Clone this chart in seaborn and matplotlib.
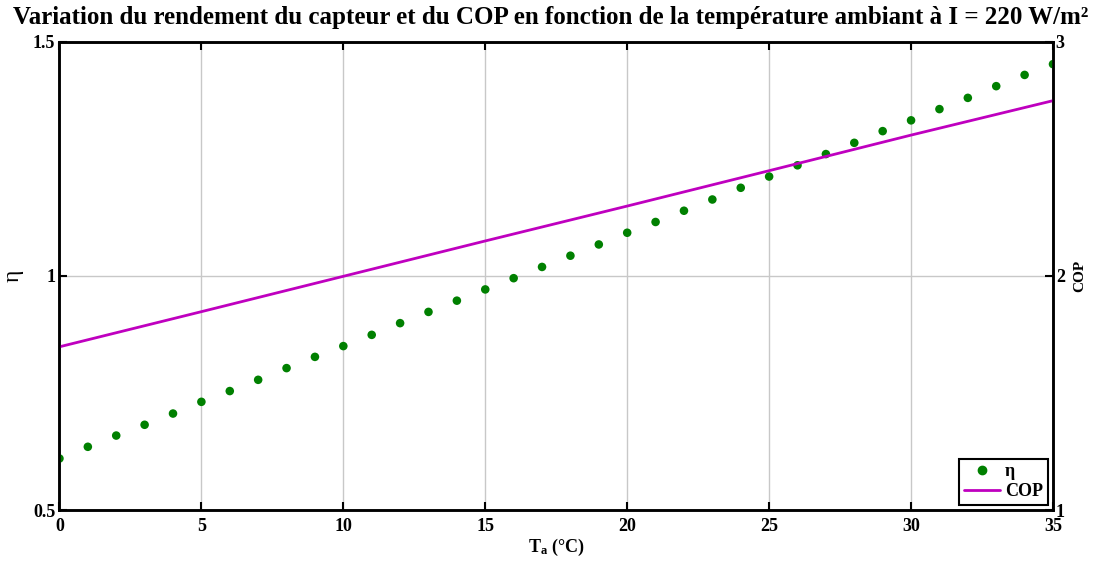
import numpy as np
import pandas as pd
import matplotlib
matplotlib.use("Agg")
import matplotlib.pyplot as plt
import seaborn as sns
from matplotlib.lines import Line2D

# ---- data ----
ta = list(range(0, 36))
eta = [0.610, 0.635, 0.659, 0.682, 0.706, 0.731, 0.754, 0.778, 0.803, 0.827,
       0.850, 0.874, 0.899, 0.923, 0.947, 0.971, 0.995, 1.019, 1.043, 1.067,
       1.092, 1.115, 1.139, 1.163, 1.188, 1.212, 1.236, 1.260, 1.284, 1.309,
       1.332, 1.356, 1.380, 1.405, 1.429, 1.452]
ta_cop = [0, 5, 10, 15, 20, 25, 30, 35]
cop = [1.697, 1.847, 1.998, 2.149, 2.298, 2.449, 2.601, 2.748]

x_ticks = [0, 5, 10, 15, 20, 25, 30, 35]
eta_ticks = [0.5, 1.0, 1.5]
eta_ticklabels = ["0.5", "1", "1.5"]
cop_ticks = [1, 2, 3]
cop_ticklabels = ["1", "2", "3"]

title = "Variation du rendement du capteur et du COP en fonction de la température ambiant à I = 220 W/m²"

sns.set_style("white")
plt.rcParams['font.family'] = ['Liberation Serif', 'DejaVu Serif']
plt.rcParams['mathtext.fontset'] = 'custom'
plt.rcParams['mathtext.rm'] = 'Liberation Serif'
plt.rcParams['mathtext.bf'] = 'Liberation Serif:bold'
plt.rcParams['text.color'] = 'black'
plt.rcParams['axes.labelcolor'] = 'black'
plt.rcParams['xtick.color'] = 'black'
plt.rcParams['ytick.color'] = 'black'

green = '#008000'
magenta = '#BF00BF'

fig = plt.figure(figsize=(11.01, 5.63), dpi=100)
ax = fig.add_axes([0.054, 0.0941, 0.9024, 0.8319])

df_eta = pd.DataFrame({"Ta": ta, "eta": eta})
df_cop = pd.DataFrame({"Ta": ta_cop, "COP": cop})

sns.scatterplot(data=df_eta, x="Ta", y="eta", ax=ax, color=green, s=38,
                edgecolor='none', legend=False, zorder=3)
ax.set_xlim(0, 35)
ax.set_ylim(0.5, 1.5)
ax.set_xticks(x_ticks)
ax.set_xticklabels([str(v) for v in x_ticks], fontweight='bold', fontsize=13)
ax.set_yticks(eta_ticks)
ax.set_yticklabels(eta_ticklabels, fontweight='bold', fontsize=13)
ax.grid(True, color='#c8c8c8', linewidth=1.0)
ax.set_axisbelow(True)
ax.tick_params(axis='x', direction='in', top=True, bottom=True, length=6, width=1.5, pad=6)
ax.tick_params(axis='y', direction='in', left=True, right=False, length=6, width=1.5, pad=3)
for sp in ax.spines.values():
    sp.set_color('black')
    sp.set_linewidth(1.8)
ax.set_xlabel(r"$\mathbf{T_a}$ (°C)", fontweight='bold', fontsize=13, labelpad=1)
ax.set_ylabel("η", fontsize=17)
ax.yaxis.set_label_coords(-0.036, 0.5)

ax2 = ax.twinx()
sns.lineplot(data=df_cop, x="Ta", y="COP", ax=ax2, color=magenta, linewidth=2, legend=False)
ax2.set_ylim(1, 3)
ax2.set_xlim(0, 35)
ax2.set_yticks(cop_ticks)
ax2.set_yticklabels(cop_ticklabels, fontweight='bold', fontsize=13)
ax2.tick_params(axis='y', direction='in', right=True, length=6, width=1.5, pad=2)
ax2.set_ylabel("COP", fontweight='bold', fontsize=11, labelpad=6)
ax2.grid(False)
for sp in ax2.spines.values():
    sp.set_color('black')
    sp.set_linewidth(1.8)

handles = [Line2D([], [], marker='o', linestyle='none', color=green, markersize=6),
           Line2D([], [], color=magenta, linewidth=2)]
leg = ax2.legend(handles, ["η", "COP"], loc='lower right', fancybox=False,
                 edgecolor='black', framealpha=1, borderaxespad=0.3,
                 prop={'weight': 'bold', 'size': 13}, handlelength=2.0,
                 handletextpad=0.3, borderpad=0.25, labelspacing=0.15)
leg.get_frame().set_linewidth(1.5)

fig.suptitle(title, fontweight='bold', fontsize=18, x=0.5, y=0.99, color='black')

fig.savefig("out.png", dpi=100)
